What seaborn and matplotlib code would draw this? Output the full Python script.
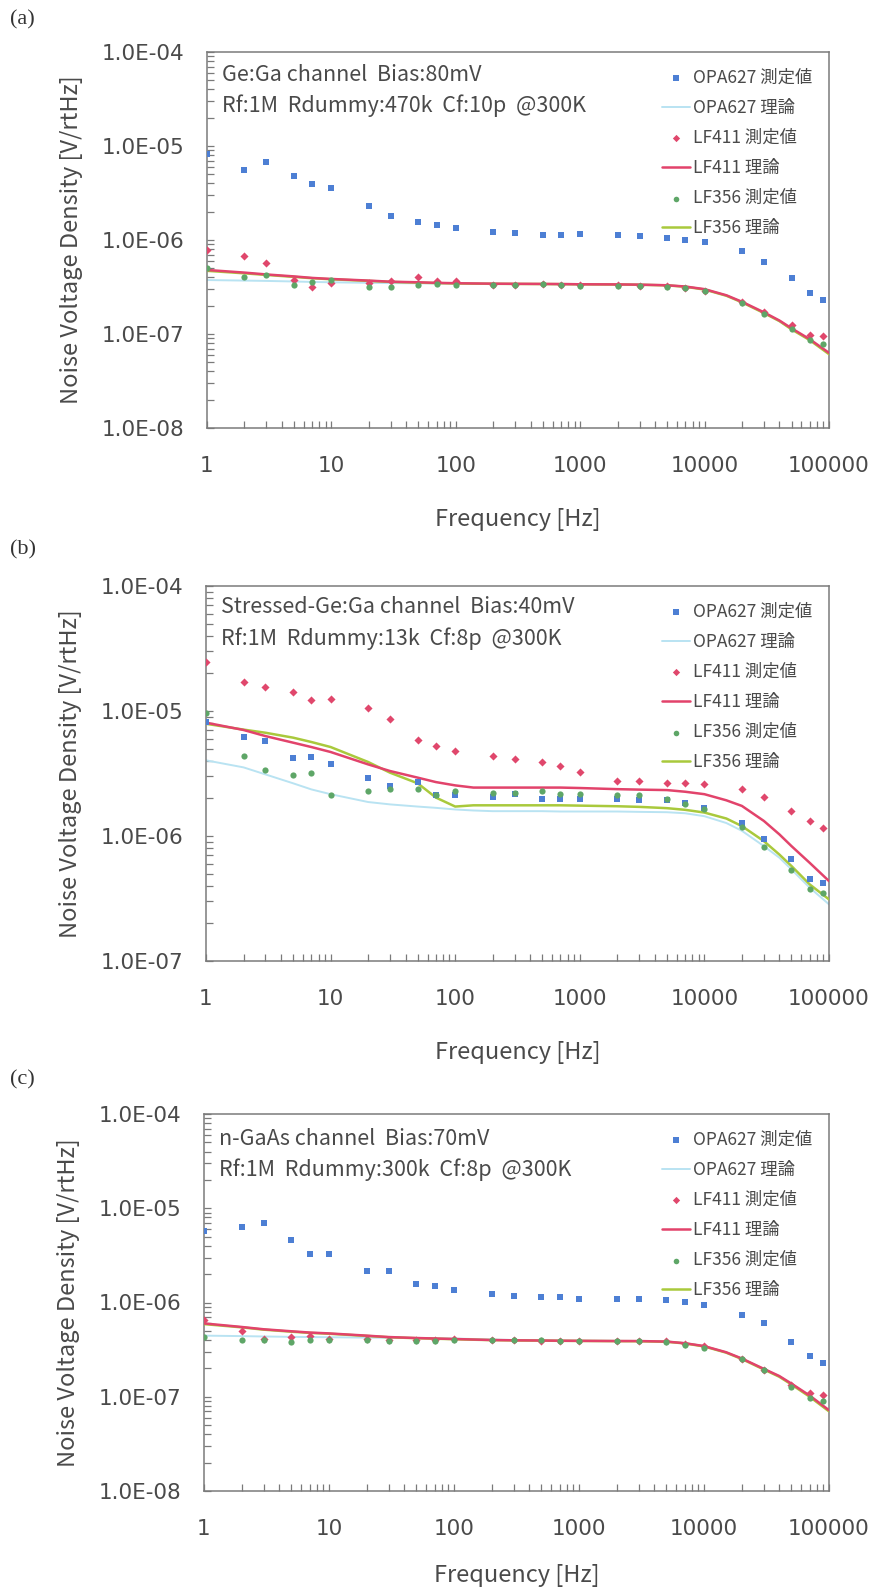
import numpy as np
import pandas as pd
import seaborn as sns
import matplotlib
matplotlib.use("Agg")
import matplotlib.pyplot as plt
from matplotlib.ticker import LogLocator, NullFormatter, FixedLocator, FixedFormatter

# ---------------- data ----------------
freq_meas = [1, 2, 3, 5, 7, 10, 20, 30, 50, 70, 100, 200, 300, 500, 700,
             1000, 2000, 3000, 5000, 7000, 10000, 20000, 30000, 50000, 70000, 90000]
freq_theory = [1, 2, 3, 5, 7, 10, 20, 30, 50, 70, 100, 140, 200, 300, 500, 700,
               1000, 2000, 3000, 5000, 7000, 10000, 15000, 20000, 30000, 40000, 50000, 70000, 100000]

# panel (a)
a_opa_meas = [8.2e-6, 5.6e-6, 6.7e-6, 4.8e-6, 3.9e-6, 3.6e-6, 2.3e-6, 1.8e-6, 1.57e-6, 1.45e-6,
              1.33e-6, 1.23e-6, 1.2e-6, 1.13e-6, 1.13e-6, 1.16e-6, 1.12e-6, 1.09e-6, 1.06e-6,
              1.01e-6, 9.6e-7, 7.7e-7, 5.9e-7, 3.9e-7, 2.7e-7, 2.3e-7]
a_lf411_meas = [7.8e-7, 6.7e-7, 5.7e-7, 3.75e-7, 3.2e-7, 3.45e-7, 3.45e-7, 3.65e-7, 4.0e-7, 3.65e-7,
                3.65e-7, 3.33e-7, 3.35e-7, 3.4e-7, 3.35e-7, 3.33e-7, 3.3e-7, 3.28e-7, 3.23e-7,
                3.05e-7, 2.88e-7, 2.17e-7, 1.7e-7, 1.24e-7, 9.8e-8, 9.6e-8]
a_lf356_meas = [5.05e-7, 4.0e-7, 4.25e-7, 3.35e-7, 3.6e-7, 3.75e-7, 3.15e-7, 3.17e-7, 3.35e-7, 3.4e-7,
                3.35e-7, 3.32e-7, 3.35e-7, 3.4e-7, 3.3e-7, 3.28e-7, 3.28e-7, 3.28e-7, 3.2e-7,
                3.05e-7, 2.85e-7, 2.12e-7, 1.63e-7, 1.12e-7, 8.6e-8, 7.9e-8]
a_opa_th = [3.75e-7, 3.7e-7, 3.67e-7, 3.62e-7, 3.58e-7, 3.55e-7, 3.5e-7, 3.48e-7, 3.46e-7, 3.45e-7,
            3.44e-7, 3.43e-7, 3.42e-7, 3.4e-7, 3.4e-7, 3.38e-7, 3.38e-7, 3.37e-7, 3.35e-7, 3.3e-7,
            3.2e-7, 2.98e-7, 2.55e-7, 2.18e-7, 1.68e-7, 1.37e-7, 1.13e-7, 8.7e-8, 6.2e-8]
a_lf411_th = [4.8e-7, 4.5e-7, 4.3e-7, 4.1e-7, 3.95e-7, 3.85e-7, 3.7e-7, 3.6e-7, 3.55e-7, 3.5e-7,
              3.47e-7, 3.45e-7, 3.43e-7, 3.42e-7, 3.41e-7, 3.4e-7, 3.38e-7, 3.37e-7, 3.35e-7, 3.3e-7,
              3.2e-7, 3.0e-7, 2.58e-7, 2.2e-7, 1.7e-7, 1.39e-7, 1.15e-7, 8.8e-8, 6.3e-8]
a_lf356_th = [4.7e-7, 4.42e-7, 4.25e-7, 4.05e-7, 3.92e-7, 3.82e-7, 3.67e-7, 3.58e-7, 3.52e-7, 3.48e-7,
              3.45e-7, 3.43e-7, 3.42e-7, 3.41e-7, 3.4e-7, 3.39e-7, 3.38e-7, 3.36e-7, 3.34e-7, 3.29e-7,
              3.18e-7, 2.97e-7, 2.55e-7, 2.17e-7, 1.67e-7, 1.37e-7, 1.12e-7, 8.6e-8, 6.1e-8]

# panel (b)
b_opa_meas = [8.1e-6, 6.2e-6, 5.8e-6, 4.2e-6, 4.3e-6, 3.8e-6, 2.9e-6, 2.5e-6, 2.7e-6, 2.13e-6,
              2.13e-6, 2.05e-6, 2.17e-6, 1.96e-6, 1.99e-6, 1.96e-6, 1.96e-6, 1.93e-6, 1.93e-6,
              1.84e-6, 1.69e-6, 1.26e-6, 9.4e-7, 6.5e-7, 4.5e-7, 4.2e-7]
b_lf411_meas = [2.48e-5, 1.71e-5, 1.56e-5, 1.42e-5, 1.23e-5, 1.24e-5, 1.06e-5, 8.7e-6, 5.9e-6, 5.2e-6,
                4.8e-6, 4.4e-6, 4.1e-6, 3.9e-6, 3.6e-6, 3.25e-6, 2.75e-6, 2.75e-6, 2.67e-6,
                2.67e-6, 2.62e-6, 2.36e-6, 2.06e-6, 1.58e-6, 1.32e-6, 1.15e-6]
b_lf356_meas = [9.7e-6, 4.4e-6, 3.35e-6, 3.1e-6, 3.2e-6, 2.12e-6, 2.29e-6, 2.36e-6, 2.36e-6, 2.13e-6,
                2.3e-6, 2.22e-6, 2.22e-6, 2.29e-6, 2.18e-6, 2.15e-6, 2.13e-6, 2.12e-6, 1.99e-6,
                1.79e-6, 1.63e-6, 1.17e-6, 8.2e-7, 5.35e-7, 3.8e-7, 3.5e-7]
b_opa_th = [4.03e-6, 3.54e-6, 3.11e-6, 2.64e-6, 2.36e-6, 2.16e-6, 1.87e-6, 1.79e-6, 1.72e-6, 1.68e-6,
            1.63e-6, 1.6e-6, 1.58e-6, 1.58e-6, 1.58e-6, 1.57e-6, 1.57e-6, 1.57e-6, 1.56e-6, 1.55e-6,
            1.52e-6, 1.44e-6, 1.27e-6, 1.1e-6, 8.3e-7, 6.7e-7, 5.4e-7, 3.86e-7, 2.84e-7]
b_lf411_th = [8.07e-6, 7.05e-6, 6.3e-6, 5.58e-6, 5.15e-6, 4.7e-6, 3.74e-6, 3.31e-6, 2.93e-6, 2.7e-6,
              2.54e-6, 2.44e-6, 2.44e-6, 2.44e-6, 2.44e-6, 2.44e-6, 2.42e-6, 2.37e-6, 2.35e-6, 2.33e-6,
              2.26e-6, 2.16e-6, 1.93e-6, 1.74e-6, 1.32e-6, 1.03e-6, 8.3e-7, 6.1e-7, 4.36e-7]
b_lf356_th = [7.9e-6, 7.1e-6, 6.7e-6, 6.12e-6, 5.65e-6, 5.15e-6, 3.91e-6, 3.21e-6, 2.64e-6, 2.03e-6,
              1.72e-6, 1.76e-6, 1.76e-6, 1.76e-6, 1.76e-6, 1.76e-6, 1.75e-6, 1.73e-6, 1.71e-6, 1.67e-6,
              1.62e-6, 1.54e-6, 1.38e-6, 1.2e-6, 9.1e-7, 7.1e-7, 5.75e-7, 4.1e-7, 3.11e-7]

# panel (c)
c_opa_meas = [5.8e-6, 6.3e-6, 7.0e-6, 4.6e-6, 3.3e-6, 3.25e-6, 2.14e-6, 2.18e-6, 1.56e-6, 1.51e-6,
              1.36e-6, 1.23e-6, 1.18e-6, 1.13e-6, 1.13e-6, 1.1e-6, 1.1e-6, 1.1e-6, 1.07e-6,
              1.01e-6, 9.5e-7, 7.45e-7, 6.0e-7, 3.8e-7, 2.7e-7, 2.27e-7]
c_lf411_meas = [6.6e-7, 5.0e-7, 4.13e-7, 4.3e-7, 4.4e-7, 4.13e-7, 4.13e-7, 4.04e-7, 4.04e-7, 4.0e-7,
                4.13e-7, 3.96e-7, 3.96e-7, 3.95e-7, 3.95e-7, 3.93e-7, 3.93e-7, 3.93e-7, 3.9e-7,
                3.65e-7, 3.42e-7, 2.52e-7, 1.93e-7, 1.33e-7, 1.09e-7, 1.04e-7]
c_lf356_meas = [4.3e-7, 4.04e-7, 4.04e-7, 3.8e-7, 4.04e-7, 4.04e-7, 4.04e-7, 3.93e-7, 3.93e-7, 3.9e-7,
                4.04e-7, 3.96e-7, 3.96e-7, 3.96e-7, 3.93e-7, 3.9e-7, 3.9e-7, 3.9e-7, 3.8e-7,
                3.57e-7, 3.31e-7, 2.5e-7, 1.9e-7, 1.28e-7, 9.6e-8, 9.1e-8]
c_opa_th = [4.45e-7, 4.4e-7, 4.36e-7, 4.32e-7, 4.3e-7, 4.28e-7, 4.24e-7, 4.22e-7, 4.2e-7, 4.18e-7,
            4.15e-7, 4.1e-7, 4.05e-7, 4.0e-7, 3.97e-7, 3.95e-7, 3.93e-7, 3.92e-7, 3.9e-7, 3.86e-7,
            3.72e-7, 3.45e-7, 2.95e-7, 2.55e-7, 1.98e-7, 1.65e-7, 1.37e-7, 1.02e-7, 7.1e-8]
c_lf411_th = [6.0e-7, 5.5e-7, 5.2e-7, 4.95e-7, 4.8e-7, 4.7e-7, 4.45e-7, 4.3e-7, 4.2e-7, 4.15e-7,
              4.1e-7, 4.05e-7, 4.0e-7, 3.97e-7, 3.95e-7, 3.93e-7, 3.92e-7, 3.9e-7, 3.9e-7, 3.85e-7,
              3.7e-7, 3.45e-7, 2.97e-7, 2.55e-7, 1.98e-7, 1.66e-7, 1.38e-7, 1.03e-7, 7.2e-8]
c_lf356_th = [5.9e-7, 5.45e-7, 5.15e-7, 4.9e-7, 4.76e-7, 4.66e-7, 4.42e-7, 4.28e-7, 4.18e-7, 4.13e-7,
              4.08e-7, 4.03e-7, 3.99e-7, 3.96e-7, 3.94e-7, 3.92e-7, 3.91e-7, 3.89e-7, 3.88e-7, 3.83e-7,
              3.68e-7, 3.42e-7, 2.94e-7, 2.52e-7, 1.95e-7, 1.63e-7, 1.35e-7, 1.0e-7, 7.0e-8]

panel_letters = ["(a)", "(b)", "(c)"]
panel_notes = [
    ["Ge:Ga channel  Bias:80mV", "Rf:1M  Rdummy:470k  Cf:10p  @300K"],
    ["Stressed-Ge:Ga channel  Bias:40mV", "Rf:1M  Rdummy:13k  Cf:8p  @300K"],
    ["n-GaAs channel  Bias:70mV", "Rf:1M  Rdummy:300k  Cf:8p  @300K"],
]
ylims = [(1e-8, 1e-4), (1e-7, 1e-4), (1e-8, 1e-4)]
ytick_vals = [[1e-8, 1e-7, 1e-6, 1e-5, 1e-4], [1e-7, 1e-6, 1e-5, 1e-4], [1e-8, 1e-7, 1e-6, 1e-5, 1e-4]]
ytick_labels = [["1.0E-08", "1.0E-07", "1.0E-06", "1.0E-05", "1.0E-04"],
                ["1.0E-07", "1.0E-06", "1.0E-05", "1.0E-04"],
                ["1.0E-08", "1.0E-07", "1.0E-06", "1.0E-05", "1.0E-04"]]
xtick_vals = [1, 10, 100, 1000, 10000, 100000]
xtick_labels = ["1", "10", "100", "1000", "10000", "100000"]
series_names = ["OPA627 測定値", "OPA627 理論", "LF411 測定値", "LF411 理論", "LF356 測定値", "LF356 理論"]
x_label = "Frequency [Hz]"
y_label = "Noise Voltage Density [V/rtHz]"

panels = [
    (a_opa_meas, a_opa_th, a_lf411_meas, a_lf411_th, a_lf356_meas, a_lf356_th),
    (b_opa_meas, b_opa_th, b_lf411_meas, b_lf411_th, b_lf356_meas, b_lf356_th),
    (c_opa_meas, c_opa_th, c_lf411_meas, c_lf411_th, c_lf356_meas, c_lf356_th),
]

# ---------------- style ----------------
sns.set_theme(style="white")
plt.rcParams['font.family'] = ['Noto Sans CJK JP', 'DejaVu Sans']
TXT = "#4a4a4a"
SPINE = "#7a7a7a"
C_OPA_M = "#4d7fd4"
C_OPA_T = "#b9e3f2"
C_411_M = "#e0476c"
C_411_T = "#e2436b"
C_356_M = "#5ea667"
C_356_T = "#a9c93c"

W, H = 870, 1591
fig = plt.figure(figsize=(W / 100, H / 100), dpi=100)
fig.patch.set_facecolor("white")

# axes boxes in pixels: (left, top, right, bottom)
boxes = [(207, 52, 829, 428), (206, 586, 829, 961), (204, 1114, 829, 1491)]
letter_y = [20, 550, 1080]
note_base = [[29, 60], [27, 59], [31, 62]]
xlabel_pads = [23, 23, 18]

for i, (box, data) in enumerate(zip(boxes, panels)):
    l, t, r, b = box
    ax = fig.add_axes([l / W, 1 - b / H, (r - l) / W, (b - t) / H])
    ax.set_xscale("log")
    ax.set_yscale("log")
    opa_m, opa_t, lf411_m, lf411_t, lf356_m, lf356_t = data

    sns.lineplot(x=freq_theory, y=opa_t, color=C_OPA_T, lw=1.4, ax=ax, label=series_names[1], zorder=2)
    sns.lineplot(x=freq_theory, y=lf356_t, color=C_356_T, lw=1.8, ax=ax, label=series_names[5], zorder=3)
    sns.lineplot(x=freq_theory, y=lf411_t, color=C_411_T, lw=1.8, ax=ax, label=series_names[3], zorder=3)
    sns.scatterplot(x=freq_meas, y=opa_m, marker="s", s=22, color=C_OPA_M, linewidth=0, ax=ax,
                    label=series_names[0], zorder=4)
    sns.scatterplot(x=freq_meas, y=lf411_m, marker="D", s=17, color=C_411_M, linewidth=0, ax=ax,
                    label=series_names[2], zorder=4)
    sns.scatterplot(x=freq_meas, y=lf356_m, marker="o", s=20, color=C_356_M, linewidth=0, ax=ax,
                    label=series_names[4], zorder=4)

    ax.set_xlim(1, 1e5)
    ax.set_ylim(*ylims[i])
    ax.xaxis.set_major_locator(FixedLocator(xtick_vals))
    ax.xaxis.set_major_formatter(FixedFormatter(xtick_labels))
    ax.xaxis.set_minor_locator(LogLocator(base=10, subs=np.arange(2, 10)))
    ax.xaxis.set_minor_formatter(NullFormatter())
    ax.yaxis.set_major_locator(FixedLocator(ytick_vals[i]))
    ax.yaxis.set_major_formatter(FixedFormatter(ytick_labels[i]))
    ax.yaxis.set_minor_locator(LogLocator(base=10, subs=np.arange(2, 10)))
    ax.yaxis.set_minor_formatter(NullFormatter())
    ax.tick_params(axis="both", which="both", direction="in", color=SPINE, width=0.9,
                   top=False, right=False, bottom=True, left=True)
    ax.tick_params(axis="both", which="major", length=5)
    ax.tick_params(axis="both", which="minor", length=5)
    ax.tick_params(axis="x", which="major", pad=20, labelcolor=TXT)
    ax.tick_params(axis="y", which="major", pad=16, labelcolor=TXT)
    for lab in ax.get_xticklabels() + ax.get_yticklabels():
        lab.set_fontfamily("DejaVu Sans")
        lab.set_fontsize(15.5)
    for sp in ax.spines.values():
        sp.set_color(SPINE)
        sp.set_linewidth(1.1)
    ax.set_xlabel(x_label, fontsize=17, color=TXT, labelpad=xlabel_pads[i])
    ax.set_ylabel(y_label, fontsize=17, color=TXT, labelpad=14)
    ax.grid(False)

    # annotation text (baseline positions in px below the top of the axes)
    for k in range(2):
        ax.text(15 / (r - l), 1 - note_base[i][k] / (b - t), panel_notes[i][k], transform=ax.transAxes,
                fontsize=15.5, color=TXT, va="baseline", ha="left")

    # legend in reference order
    handles, labels = ax.get_legend_handles_labels()
    hmap = dict(zip(labels, handles))
    leg = ax.legend([hmap[n] for n in series_names], series_names, loc="upper right",
                    bbox_to_anchor=(1.0, 1.0), frameon=False, fontsize=12.5,
                    handlelength=1.6, handletextpad=0.2, labelspacing=0.7,
                    borderaxespad=0.55, markerscale=0.9)
    for txt in leg.get_texts():
        txt.set_color(TXT)

    fig.text(10 / W, 1 - letter_y[i] / H, panel_letters[i], fontsize=16,
             family="Liberation Serif", color="#333333", va="center", ha="left")

fig.savefig("out.png", dpi=100, facecolor="white")
